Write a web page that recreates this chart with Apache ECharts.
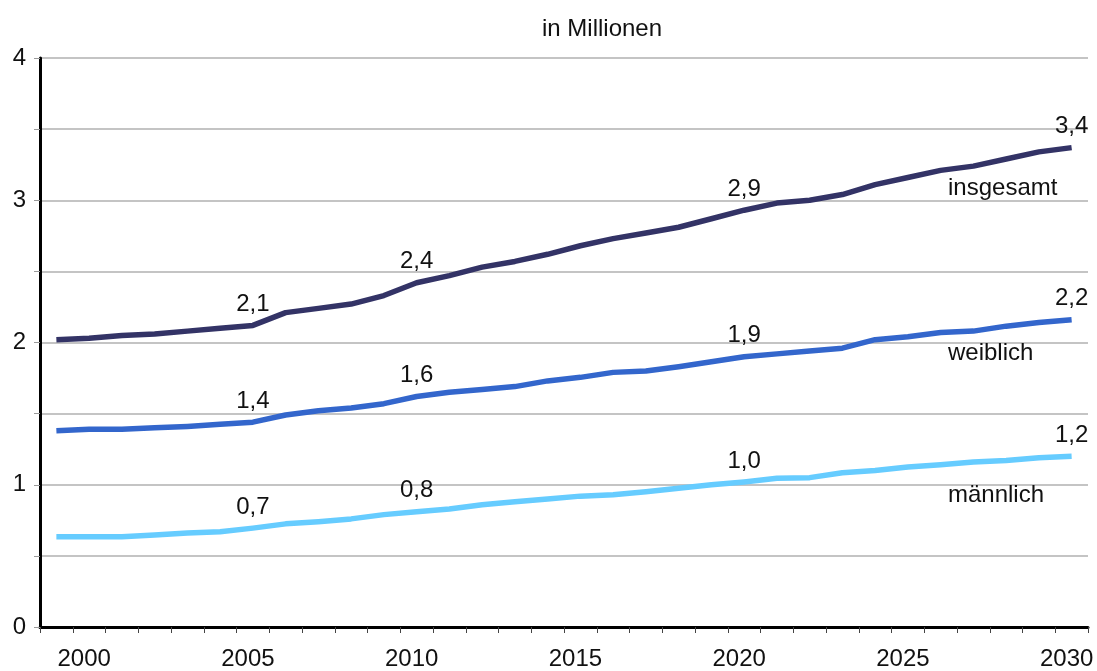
<!DOCTYPE html>
<html>
<head>
<meta charset="utf-8">
<script src="https://cdn.jsdelivr.net/npm/echarts@6/dist/echarts.min.js"></script>
<style>html,body{margin:0;padding:0;background:#fff}#c{width:1097px;height:671px}</style>
</head>
<body>
<div id="c"></div>
<script>
var years = ['1999','2000','2001','2002','2003','2004','2005','2006','2007','2008','2009','2010','2011','2012','2013','2014','2015','2016','2017','2018','2019','2020','2021','2022','2023','2024','2025','2026','2027','2028','2029','2030'];
var insgesamt = [2.02,2.03,2.05,2.06,2.08,2.10,2.12,2.21,2.24,2.27,2.33,2.42,2.47,2.53,2.57,2.62,2.68,2.73,2.77,2.81,2.87,2.93,2.98,3.00,3.04,3.11,3.16,3.21,3.24,3.29,3.34,3.37];
var weiblich = [1.38,1.39,1.39,1.40,1.41,1.425,1.44,1.49,1.52,1.54,1.57,1.62,1.65,1.67,1.69,1.73,1.755,1.79,1.80,1.83,1.865,1.90,1.92,1.94,1.96,2.02,2.04,2.07,2.08,2.115,2.14,2.16];
var maennlich = [0.635,0.635,0.635,0.647,0.66,0.67,0.695,0.725,0.74,0.76,0.79,0.81,0.83,0.86,0.88,0.90,0.92,0.93,0.95,0.975,1.00,1.02,1.045,1.05,1.085,1.10,1.125,1.14,1.16,1.17,1.19,1.20];
var labelYears = ['2005','2010','2020','2030'];
var insgesamtLabels = ['2,1','2,4','2,9','3,4'];
var weiblichLabels = ['1,4','1,6','1,9','2,2'];
var maennlichLabels = ['0,7','0,8','1,0','1,2'];
var seriesNames = ['insgesamt','weiblich','männlich'];
var unitText = 'in Millionen';

var FONT = '"Liberation Sans", Arial, sans-serif';
var FS = 24;

function buildData(values, labels) {
  return values.map(function (v, i) {
    var k = labelYears.indexOf(years[i]);
    if (k >= 0) {
      return { value: v, label: { show: true, formatter: labels[k] } };
    }
    return v;
  });
}
function lineSeries(name, values, labels, color) {
  return {
    name: name,
    type: 'line',
    data: buildData(values, labels),
    symbol: 'circle',
    symbolSize: 0,
    showSymbol: true,
    showAllSymbol: true,
    lineStyle: { color: color, width: 5.5, join: 'round', cap: 'butt' },
    itemStyle: { color: color },
    label: { show: false, position: 'top', distance: 9, color: '#111', fontFamily: FONT, fontSize: FS },
    emphasis: { disabled: true },
    z: 3
  };
}

var chart = echarts.init(document.getElementById('c'), null, { renderer: 'canvas' });
chart.setOption({
  animation: false,
  backgroundColor: '#fff',
  title: {
    text: unitText,
    left: 537,
    top: 12,
    textStyle: { fontFamily: FONT, fontSize: FS, fontWeight: 'normal', color: '#111' }
  },
  grid: { left: 40, right: 9, top: 58, bottom: 44, containLabel: false },
  xAxis: {
    type: 'category',
    data: years,
    boundaryGap: true,
    axisLine: { lineStyle: { color: '#000', width: 3 } },
    axisTick: { show: true, interval: 0, length: 6, lineStyle: { color: '#444', width: 1 } },
    axisLabel: {
      interval: function (i, v) { return Number(v) % 5 === 0; },
      margin: 20,
      padding: [0, 10, 0, 0],
      color: '#111',
      fontFamily: FONT,
      fontSize: FS
    },
    splitLine: { show: false }
  },
  yAxis: {
    type: 'value',
    min: 0,
    max: 4,
    interval: 0.5,
    axisLine: { show: true, lineStyle: { color: '#000', width: 3 } },
    axisTick: { show: true, length: 6, lineStyle: { color: '#999', width: 1 } },
    axisLabel: {
      formatter: function (v) { return Number.isInteger(v) ? String(v) : ''; },
      margin: 14,
      color: '#111',
      fontFamily: FONT,
      fontSize: FS
    },
    splitLine: { show: true, lineStyle: { color: '#c4c4c4', width: 2 } }
  },
  series: [
    lineSeries(seriesNames[0], insgesamt, insgesamtLabels, '#333366'),
    lineSeries(seriesNames[1], weiblich, weiblichLabels, '#3366cc'),
    lineSeries(seriesNames[2], maennlich, maennlichLabels, '#66ccff')
  ],
  graphic: [
    { type: 'text', left: 948, top: 176, z: 10, style: { text: seriesNames[0], fill: '#111', font: FS + 'px ' + FONT } },
    { type: 'text', left: 948, top: 341, z: 10, style: { text: seriesNames[1], fill: '#111', font: FS + 'px ' + FONT } },
    { type: 'text', left: 948, top: 483, z: 10, style: { text: seriesNames[2], fill: '#111', font: FS + 'px ' + FONT } }
  ]
});
</script>
</body>
</html>
